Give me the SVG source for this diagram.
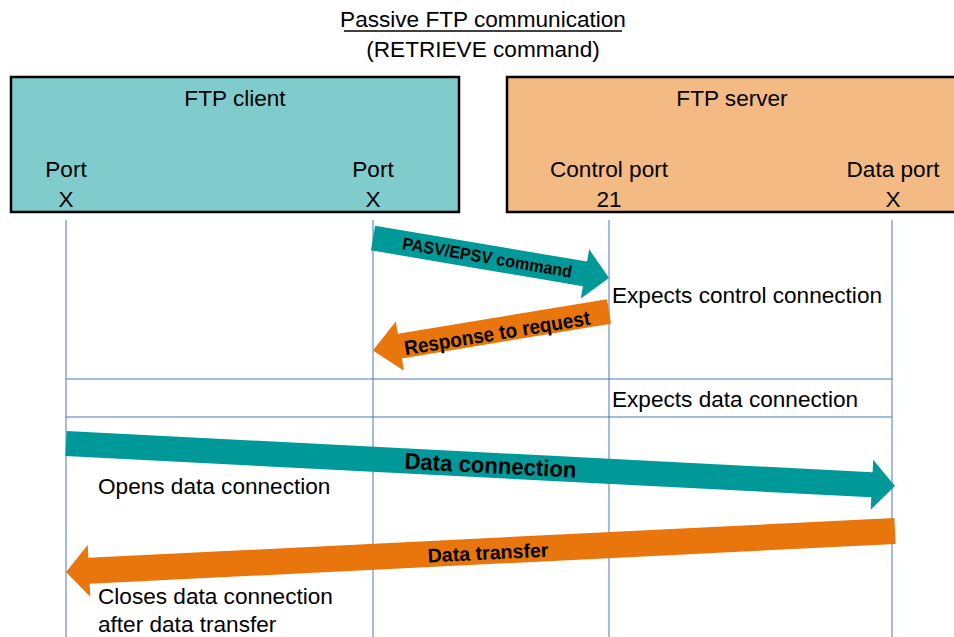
<svg xmlns="http://www.w3.org/2000/svg" width="954" height="637" viewBox="0 0 954 637">
<style>
.t{font-family:"Liberation Sans",Arial,sans-serif;font-size:22.6px;fill:#000}
.c{text-anchor:middle}
.b{font-family:"Liberation Sans",Arial,sans-serif;font-weight:bold;fill:#000;text-anchor:middle}
.box{stroke:#000;stroke-width:2.5}
.life{stroke:#4A78BE;stroke-width:1;fill:none}
.teal{fill:#009999}
.orange{fill:#E8760C}
</style>
<rect width="954" height="637" fill="#fff"/>
<g id="title">
<text class="t c" x="483" y="27">Passive FTP communication</text>
<line x1="344" y1="31" x2="622" y2="31" stroke="#000" stroke-width="1.3"/>
<text class="t c" x="483" y="57">(RETRIEVE command)</text>
</g>
<g id="client">
<rect class="box" x="11" y="77" width="448" height="135" fill="#80CBCB"/>
<text class="t c" x="235" y="106">FTP client</text>
<text class="t c" x="66" y="177">Port</text>
<text class="t c" x="66" y="207">X</text>
<text class="t c" x="373" y="177">Port</text>
<text class="t c" x="373" y="207">X</text>
</g>
<g id="server">
<rect class="box" x="507" y="77" width="460" height="135" fill="#F4BA84"/>
<text class="t c" x="732" y="106">FTP server</text>
<text class="t c" x="609" y="177">Control port</text>
<text class="t c" x="609" y="207">21</text>
<text class="t c" x="893" y="177">Data port</text>
<text class="t c" x="893" y="207">X</text>
</g>
<g id="lifelines">
<line class="life" x1="66" y1="220" x2="66" y2="637"/>
<line class="life" x1="373" y1="220" x2="373" y2="637"/>
<line class="life" x1="609" y1="220" x2="609" y2="637"/>
<line class="life" x1="892" y1="220" x2="892" y2="637"/>
<line class="life" x1="66" y1="379" x2="892" y2="379"/>
<line class="life" x1="66" y1="417" x2="892" y2="417"/>
</g>
<g id="connectors">
<g transform="translate(373,238) rotate(9.62)">
<polygon class="teal" points="0,-12.5 215,-12.5 215,-25 239.4,0 215,25 215,12.5 0,12.5"/>
<text class="b" x="116" y="6" font-size="17" textLength="172" lengthAdjust="spacingAndGlyphs">PASV/EPSV command</text>
</g>
<g transform="translate(609,311.5) rotate(170.62)">
<polygon class="orange" points="0,-12.5 212,-12.5 212,-25 239.3,0 212,25 212,12.5 0,12.5"/>
</g>
<text class="b" x="497" y="340" font-size="20.5" textLength="188" lengthAdjust="spacingAndGlyphs" transform="rotate(-9.38 497 333)">Response to request</text>
<g transform="translate(66,443.5) rotate(2.93)">
<polygon class="teal" points="0,-12.5 807,-12.5 807,-25 830,0 807,25 807,12.5 0,12.5"/>
<text class="b" x="425" y="8" font-size="23" textLength="172" lengthAdjust="spacingAndGlyphs">Data connection</text>
</g>
<g transform="translate(895,531) rotate(177.17)">
<polygon class="orange" points="0,-13 807,-13 807,-26 830,0 807,26 807,13 0,13"/>
</g>
<text class="b" x="488" y="559.5" font-size="19.5" textLength="121" lengthAdjust="spacingAndGlyphs" transform="rotate(-2.83 488 553)">Data transfer</text>
</g>
<g id="notes">
<text class="t" x="612" y="303">Expects control connection</text>
<text class="t" x="612" y="407">Expects data connection</text>
<text class="t" x="98" y="494">Opens data connection</text>
<text class="t" x="98" y="604">Closes data connection</text>
<text class="t" x="98" y="632">after data transfer</text>
</g>
</svg>
